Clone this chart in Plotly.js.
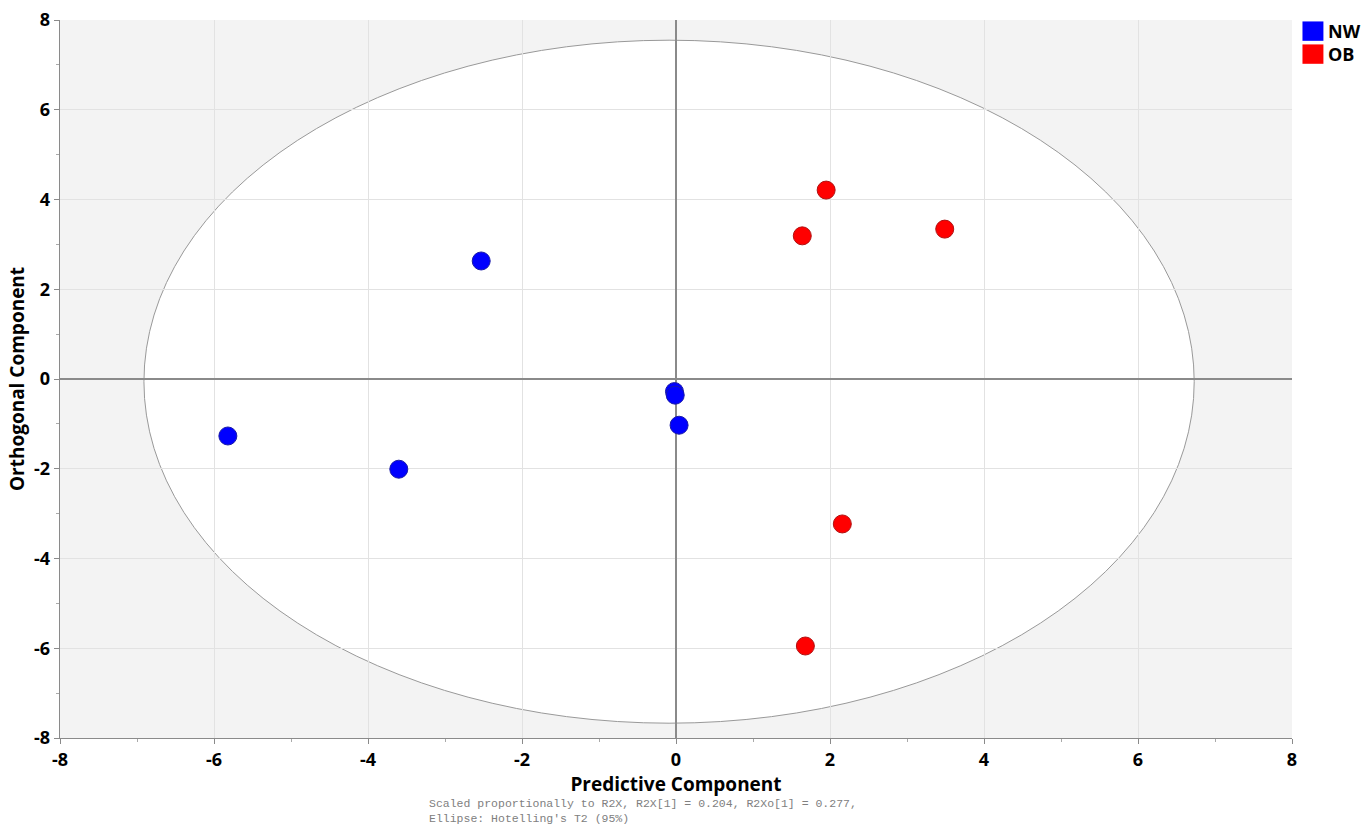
<!DOCTYPE html>
<html><head><meta charset="utf-8">
<script src="https://cdn.plot.ly/plotly-3.0.1.min.js"></script>
<style>body{margin:0;background:#fff}#chart{width:1365px;height:829px}</style>
</head><body><div id="chart"></div>
<script>
// Data
const groups = ["NW", "OB"];
const nwX = [-2.53, -5.82, -3.60, -0.02, -0.01, 0.04];
const nwY = [2.63, -1.27, -2.01, -0.28, -0.36, -1.03];
const obX = [1.95, 1.64, 3.49, 2.16, 1.68];
const obY = [4.21, 3.19, 3.34, -3.23, -5.95];
const ellipseX = [-6.91, 6.73];
const ellipseY = [-7.67, 7.55];
const tickVals = [-8, -6, -4, -2, 0, 2, 4, 6, 8];
const footer = "Scaled proportionally to R2X, R2X[1] = 0.204, R2Xo[1] = 0.277,<br>Ellipse: Hotelling's T2 (95%)";

const traces = [
  {x: nwX, y: nwY, name: groups[0], type: "scatter", mode: "markers",
   marker: {color: "#0000ff", size: 18, line: {color: "#1a1aa8", width: 1}}},
  {x: obX, y: obY, name: groups[1], type: "scatter", mode: "markers",
   marker: {color: "#ff0000", size: 18, line: {color: "#b01010", width: 1}}}
];

const tickFont = {family: "Open Sans, Noto Sans, sans-serif", size: 18, color: "#000", weight: "bold"};
const titleFont = {family: "Open Sans, Noto Sans, sans-serif", size: 19, color: "#000", weight: "bold"};
const axisCommon = {
  range: [-8, 8], tickvals: tickVals, ticktext: tickVals.map(String),
  showgrid: true, gridcolor: "#e2e2e2", gridwidth: 1,
  zeroline: true, zerolinecolor: "#8a8a8a", zerolinewidth: 1.5,
  showline: true, linecolor: "#8a8a8a", linewidth: 1.3,
  ticks: "outside", ticklen: 5, tickcolor: "#8a8a8a",
  minor: {dtick: 1, ticks: "outside", ticklen: 3, tickcolor: "#aaaaaa", showgrid: false},
  tickfont: tickFont, fixedrange: true
};

const layout = {
  width: 1365, height: 829,
  margin: {l: 60, r: 73, t: 20, b: 91},
  paper_bgcolor: "#ffffff", plot_bgcolor: "#f3f3f3",
  showlegend: false,
  xaxis: Object.assign({}, axisCommon, {
    title: {text: "Predictive Component", font: titleFont, standoff: 6}
  }),
  yaxis: Object.assign({}, axisCommon, {
    title: {text: "Orthogonal Component", font: titleFont, standoff: 4}
  }),
  shapes: [
    {type: "circle", xref: "x", yref: "y", x0: ellipseX[0], x1: ellipseX[1], y0: ellipseY[0], y1: ellipseY[1],
     fillcolor: "#ffffff", line: {color: "#999999", width: 1}, layer: "below"},
    {type: "rect", xref: "paper", yref: "paper", x0: 1.0085, x1: 1.0255, y0: 0.998, y1: 0.971,
     fillcolor: "#0000ff", line: {width: 0}},
    {type: "rect", xref: "paper", yref: "paper", x0: 1.0085, x1: 1.0255, y0: 0.966, y1: 0.939,
     fillcolor: "#ff0000", line: {width: 0}}
  ],
  annotations: [
    {xref: "paper", yref: "paper", x: 1.028, y: 0.985, xanchor: "left", yanchor: "middle", showarrow: false,
     text: "<b>" + groups[0] + "</b>", font: {family: "Open Sans, Noto Sans, sans-serif", size: 18, color: "#000"}},
    {xref: "paper", yref: "paper", x: 1.028, y: 0.953, xanchor: "left", yanchor: "middle", showarrow: false,
     text: "<b>" + groups[1] + "</b>", font: {family: "Open Sans, Noto Sans, sans-serif", size: 18, color: "#000"}},
    {xref: "paper", yref: "paper", x: 0.298, y: -0.079, xanchor: "left", yanchor: "top", align: "left", showarrow: false,
     text: footer, font: {family: "Liberation Mono, DejaVu Sans Mono, monospace", size: 11.5, color: "#808080"}}
  ]
};

Plotly.newPlot("chart", traces, layout, {displayModeBar: false, staticPlot: true});
</script></body></html>
